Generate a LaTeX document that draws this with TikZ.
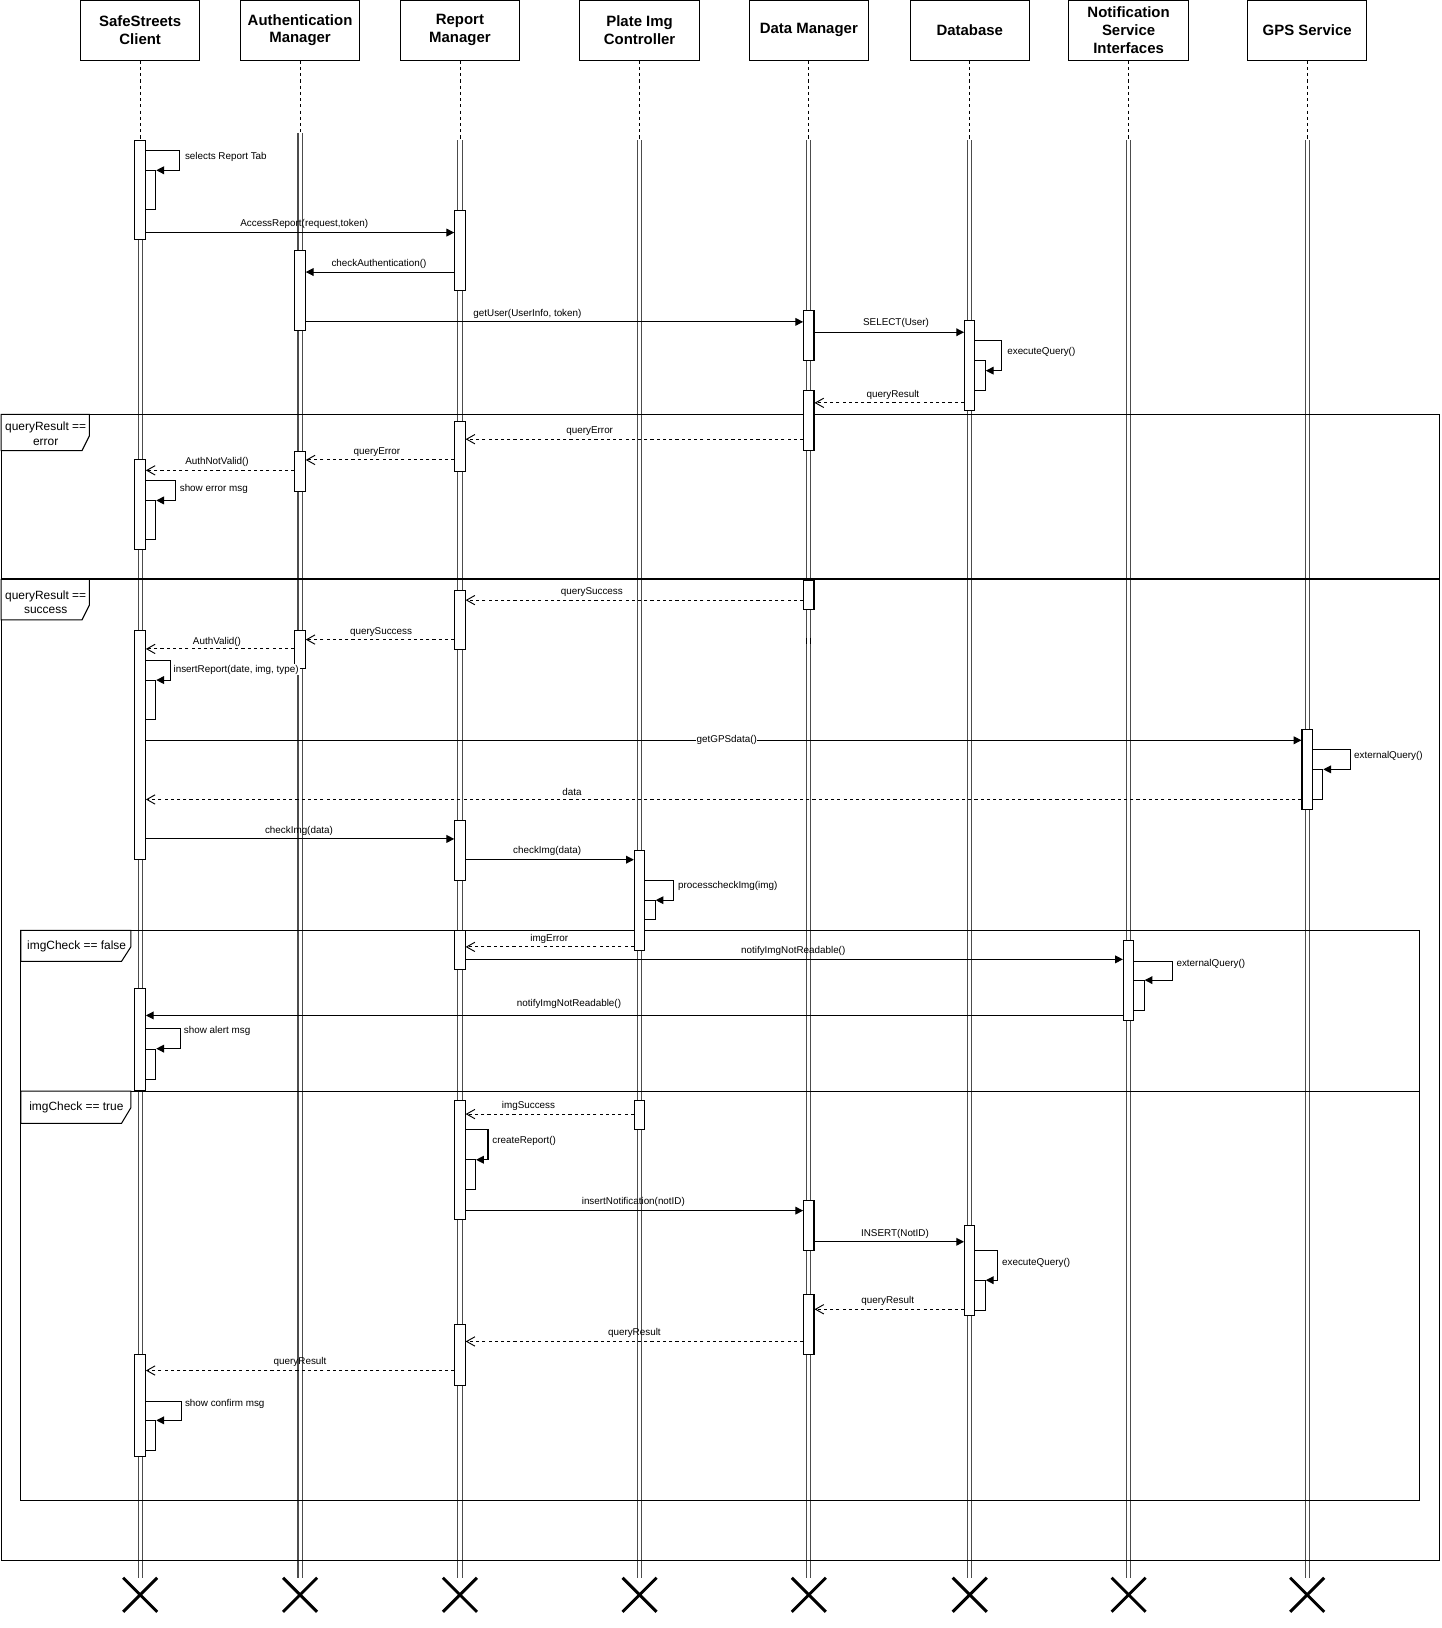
\documentclass[tikz,border=0pt]{standalone}
\usepackage{fontspec}
\setmainfont{Liberation Sans}
\usetikzlibrary{arrows.meta,shapes.misc}
\tikzset{
  hdr/.style={draw, line width=1pt, minimum width=115pt, minimum height=58pt, inner sep=0pt, align=center, font=\fontsize{14.4}{17}\selectfont\bfseries},
  act/.style={draw, fill=white, line width=1pt, minimum width=10pt, inner sep=0pt},
  life/.style={draw=black!70, line width=1pt},
  lifedash/.style={line width=0.8pt, dash pattern=on 3pt off 3pt},
  msg/.style={line width=1pt, -{Triangle[length=7.5pt,width=7.5pt]}},
  ret/.style={line width=0.9pt, dash pattern=on 3pt off 3pt, -{Straight Barb[length=8pt,width=9pt,line width=0.9pt]}},
  lbl/.style={font=\fontsize{9.5}{11}\selectfont, inner sep=1pt},
  lbll/.style={lbl, anchor=west},
  frm/.style={line width=1pt},
  flbl/.style={font=\fontsize{11.5}{14}\selectfont, align=center, inner sep=0pt},
  endx/.style={draw, cross out, line width=2.8pt, minimum size=30pt, inner sep=0pt},
}
\newcommand\actbox[4]{\node[act, minimum height={#4-#3}] (#1) at (#2,{(#3+#4)/2}) {};}
\begin{document}
\begin{tikzpicture}[x=1pt,y=-1pt]
\useasboundingbox (0,0) rectangle (1388,1568);

% headers
\node[hdr] (hc) at (135,29) {SafeStreets\\Client};
\node[hdr] (ha) at (289,29) {Authentication\\Manager};
\node[hdr] (hr) at (443,29) {Report\\Manager};
\node[hdr] (hp) at (616,29) {Plate Img\\Controller};
\node[hdr] (hd) at (779,29) {Data Manager};
\node[hdr] (hb) at (934,29) {Database};
\node[hdr] (hn) at (1087,29) {Notification\\Service\\Interfaces};
\node[hdr] (hg) at (1259,29) {GPS Service};

% end crosses
\node[endx] (xc) at (135,1536) {};
\node[endx] (xa) at (289,1536) {};
\node[endx] (xr) at (443,1536) {};
\node[endx] (xp) at (616,1536) {};
\node[endx] (xd) at (779,1536) {};
\node[endx] (xb) at (934,1536) {};
\node[endx] (xn) at (1087,1536) {};
\node[endx] (xg) at (1259,1536) {};

% lifelines
\coordinate (sc) at (135,135);
\coordinate (sa) at (289,128);
\coordinate (sr) at (443,135);
\coordinate (sp) at (616,135);
\coordinate (sd) at (779,135);
\coordinate (sb) at (934,135);
\coordinate (sn) at (1087,135);
\coordinate (sg) at (1259,135);
\foreach \h/\s/\x in {hc/sc/xc, ha/sa/xa, hr/sr/xr, hp/sp/xp, hd/sd/xd, hb/sb/xb, hn/sn/xn, hg/sg/xg}{
  \draw[lifedash] (\h.south) -- (\s);
  \draw[life] ([xshift=-2pt]\s) -- ([xshift=-2pt]\x.north);
  \draw[life] ([xshift=2pt]\s) -- ([xshift=2pt]\x.north);
}
\draw[line width=1pt] (777,614) -- (777,620) (781,614) -- (781,620);

% frames
\draw[frm] (1,399) rectangle (1386,558);
\draw[frm] (1,558) rectangle (1386,1503);
\draw[line width=2pt] (1,558) -- (1386,558);
\draw[frm] (20,896) rectangle (1367,1051);
\draw[frm] (20,1051) rectangle (1367,1445);
\draw[frm, fill=white] (1,399) -- (86,399) -- (86,420) -- (79,434) -- (1,434) -- cycle;
\node[flbl] (f1) at (44,417.5) {queryResult ==\\error};
\draw[frm, fill=white] (1,558) -- (86,558) -- (86,583) -- (79,597) -- (1,597) -- cycle;
\node[flbl] (f2) at (44,580) {queryResult ==\\success};
\draw[frm, fill=white] (20,896) -- (126,896) -- (126,912) -- (117,926) -- (20,926) -- cycle;
\node[flbl, anchor=west] (f3) at (26,912) {imgCheck == false};
\draw[frm, fill=white] (20,1051) -- (126,1051) -- (126,1067) -- (117,1082) -- (20,1082) -- cycle;
\node[flbl, anchor=west] (f4) at (28,1067) {imgCheck == true};

% activations
\actbox{c1}{135}{135}{231}
\actbox{c1n}{145}{164}{202}
\actbox{c2}{135}{443}{529}
\actbox{c2n}{145}{482}{520}
\actbox{c3}{135}{607}{828}
\actbox{c3n}{145}{655}{693}
\actbox{c4}{135}{952}{1050}
\actbox{c4n}{145}{1011}{1040}
\actbox{c5}{135}{1305}{1403}
\actbox{c5n}{145}{1368}{1397}
\actbox{a1}{289}{241}{318}
\actbox{a2}{289}{435}{473}
\actbox{a3}{289}{607}{644}
\actbox{r1}{443}{203}{280}
\actbox{r2}{443}{406}{454}
\actbox{r3}{443}{569}{626}
\actbox{r4}{443}{790}{848}
\actbox{r5}{443}{896}{934}
\actbox{r6}{443}{1060}{1175}
\actbox{r6n}{453}{1117}{1146}
\actbox{r7}{443}{1276}{1334}
\actbox{p1}{616}{819}{915}
\actbox{p1n}{626}{867}{886}
\actbox{p2}{616}{1060}{1088}
\actbox{d1}{779}{299}{347}
\actbox{d2}{779}{376}{434}
\actbox{d3}{779}{559}{587}
\actbox{d4}{779}{1156}{1204}
\actbox{d5}{779}{1247}{1305}
\actbox{b1}{934}{309}{395}
\actbox{b1n}{944}{347}{376}
\actbox{b2}{934}{1180}{1267}
\actbox{b2n}{944}{1233}{1262}
\actbox{n1}{1087}{906}{983}
\actbox{n1n}{1097}{944}{973}
\actbox{g1}{1259}{703}{780}
\actbox{g1n}{1269}{741}{770}

% messages
\draw[msg] (c1.east |- 0,145) -- (173,145) -- (173,164) -- (c1n.east |- 0,164);
\node[lbll] (l0) at (177,151) {selects Report Tab};
\draw[msg] (c1.east |- 0,224) -- (r1.west |- 0,224);
\node[lbl] (l1) at (293,216) {AccessReport(request,token)};
\draw[msg] (r1.west |- 0,262) -- (a1.east |- 0,262);
\node[lbl] (l2) at (365,254) {checkAuthentication()};
\draw[msg] (a1.east |- 0,310) -- (d1.west |- 0,310);
\node[lbl] (l3) at (508,302) {getUser(UserInfo, token)};
\draw[msg] (d1.east |- 0,320) -- (b1.west |- 0,320);
\node[lbl] (l4) at (863,311) {SELECT(User)};
\draw[msg] (b1.east |- 0,328) -- (965,328) -- (965,357) -- (b1n.east |- 0,357);
\node[lbll] (l5) at (969,339) {executeQuery()};
\draw[ret] (b1.west |- 0,388) -- (d2.east |- 0,388);
\node[lbl] (l6) at (860,380) {queryResult};
\draw[ret] (d2.west |- 0,423) -- (r2.east |- 0,423);
\node[lbl] (l7) at (568,415) {queryError};
\draw[ret] (r2.west |- 0,443) -- (a2.east |- 0,443);
\node[lbl] (l8) at (363,435) {queryError};
\draw[ret] (a2.west |- 0,453) -- (c2.east |- 0,453);
\node[lbl] (l9) at (209,445) {AuthNotValid()};
\draw[msg] (c2.east |- 0,463) -- (169,463) -- (169,482) -- (c2n.east |- 0,482);
\node[lbll] (l10) at (172,471) {show error msg};
\draw[ret] (d3.west |- 0,578) -- (r3.east |- 0,578);
\node[lbl] (l11) at (570,570) {querySuccess};
\draw[ret] (r3.west |- 0,616) -- (a3.east |- 0,616);
\node[lbl] (l12) at (367,609) {querySuccess};
\draw[ret] (a3.west |- 0,625) -- (c3.east |- 0,625);
\node[lbl] (l13) at (209,618) {AuthValid()};
\draw[msg] (c3.east |- 0,636) -- (164,636) -- (164,655) -- (c3n.east |- 0,655);
\node[lbll, fill=white] (l14) at (166,645) {insertReport(date, img, type)};
\draw[msg] (c3.east |- 0,713) -- (g1.west |- 0,713);
\node[lbl, fill=white, inner sep=0.5pt] (l15) at (700,713) {getGPSdata()};
\draw[msg] (g1.east |- 0,722) -- (1301,722) -- (1301,741) -- (g1n.east |- 0,741);
\node[lbll] (l16) at (1303,728) {externalQuery()};
\draw[ret] (g1.west |- 0,770) -- (c3.east |- 0,770);
\node[lbl] (l17) at (551,763) {data};
\draw[msg] (c3.east |- 0,808) -- (r4.west |- 0,808);
\node[lbl] (l18) at (288,800) {checkImg(data)};
\draw[msg] (r4.east |- 0,828) -- (p1.west |- 0,828);
\node[lbl] (l19) at (527,820) {checkImg(data)};
\draw[msg] (p1.east |- 0,848) -- (649,848) -- (649,867) -- (p1n.east |- 0,867);
\node[lbll] (l20) at (652,853) {processcheckImg(img)};
\draw[ret] (p1.west |- 0,912) -- (r5.east |- 0,912);
\node[lbl] (l21) at (529,904) {imgError};
\draw[msg] (r5.east |- 0,924) -- (n1.west |- 0,924);
\node[lbl] (l22) at (764,916) {notifyImgNotReadable()};
\draw[msg] (n1.east |- 0,926) -- (1129,926) -- (1129,944) -- (n1n.east |- 0,944);
\node[lbll] (l23) at (1132,928) {externalQuery()};
\draw[msg] (n1.west |- 0,978) -- (c4.east |- 0,978);
\node[lbl] (l24) at (548,967) {notifyImgNotReadable()};
\draw[msg] (c4.east |- 0,991) -- (174,991) -- (174,1010) -- (c4n.east |- 0,1010);
\node[lbll] (l25) at (176,993) {show alert msg};
\draw[ret] (p2.west |- 0,1073) -- (r6.east |- 0,1073);
\node[lbl] (l26) at (509,1065) {imgSuccess};
\draw[msg] (r6.east |- 0,1088) -- (470,1088) -- (470,1117) -- (r6n.east |- 0,1117);
\node[lbll] (l27) at (473,1099) {createReport()};
\draw[msg] (r6.east |- 0,1166) -- (d4.west |- 0,1166);
\node[lbl] (l28) at (610,1158) {insertNotification(notID)};
\draw[msg] (d4.east |- 0,1196) -- (b2.west |- 0,1196);
\node[lbl] (l29) at (862,1188) {INSERT(NotID)};
\draw[msg] (b2.east |- 0,1204) -- (961,1204) -- (961,1233) -- (b2n.east |- 0,1233);
\node[lbll] (l30) at (964,1216) {executeQuery()};
\draw[ret] (b2.west |- 0,1261) -- (d5.east |- 0,1261);
\node[lbl] (l31) at (855,1253) {queryResult};
\draw[ret] (d5.west |- 0,1292) -- (r7.east |- 0,1292);
\node[lbl] (l32) at (611,1284) {queryResult};
\draw[ret] (r7.west |- 0,1320) -- (c5.east |- 0,1320);
\node[lbl] (l33) at (289,1312) {queryResult};
\draw[msg] (c5.east |- 0,1350) -- (175,1350) -- (175,1368) -- (c5n.east |- 0,1368);
\node[lbll] (l34) at (177,1352) {show confirm msg};
\end{tikzpicture}
\end{document}
